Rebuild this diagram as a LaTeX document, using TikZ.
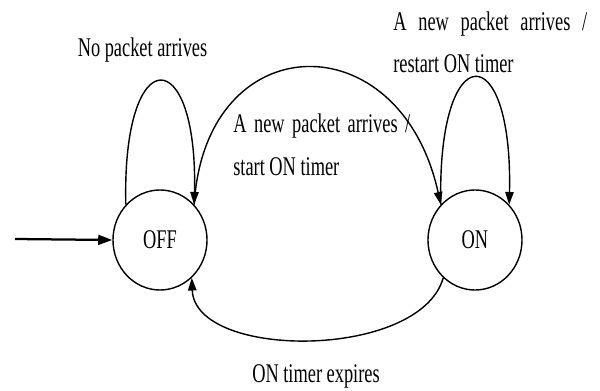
\documentclass[tikz,border=0pt]{standalone}
\usepackage{fontspec}
\setmainfont[FakeStretch=0.68]{Liberation Serif}
\usetikzlibrary{shapes.geometric,arrows.meta}

\begin{document}
\begin{tikzpicture}[x=0.025cm,y=0.025cm,
  every node/.style={font=\fontsize{19.2}{29.9}\selectfont},
  state/.style={ellipse,draw,line width=1pt,minimum width=2.35cm,minimum height=2.5cm,inner sep=0pt},
  trans/.style={line width=1pt,-{Triangle[length=9pt,width=6pt]}},
  lbl/.style={inner sep=0pt,align=left}]
\useasboundingbox (0,0) rectangle (600,390);
\coordinate (c1) at (160,150);
\coordinate (c2) at (475,150);
\coordinate (init) at (15,151);

  \node (off) at (c1) [state] {OFF};
  \node (on) at (c2) [state] {ON};

  \draw[line width=1.6pt,-{Triangle[length=10pt,width=7pt]}] (init) -- (off.west);
  \draw[trans] (off.134) .. controls +(-4,165) and +(4,163) .. (off.46);
  \draw[trans] (off.46) .. controls (205,365) and (400,370) .. (on.134);
  \draw[trans] (on.134) .. controls +(-4,169) and +(4,169) .. (on.46);
  \draw[trans] (on.230) .. controls (420,30) and (195,30) .. (off.-50);

  \node (noarr) at (142.5,333) [lbl,anchor=base] {No packet arrives};
  \node (restart) at (393,317) [lbl,anchor=base west] {\makebox[4.85cm][s]{A new packet arrives /}\\restart ON timer};
  \node (newarr) at (233,215) [lbl,anchor=base west] {\makebox[4.425cm][s]{A new packet arrives /}\\start ON timer};
  \node (expire) at (316,8) [lbl,anchor=base] {ON timer expires};
\end{tikzpicture}
\end{document}
